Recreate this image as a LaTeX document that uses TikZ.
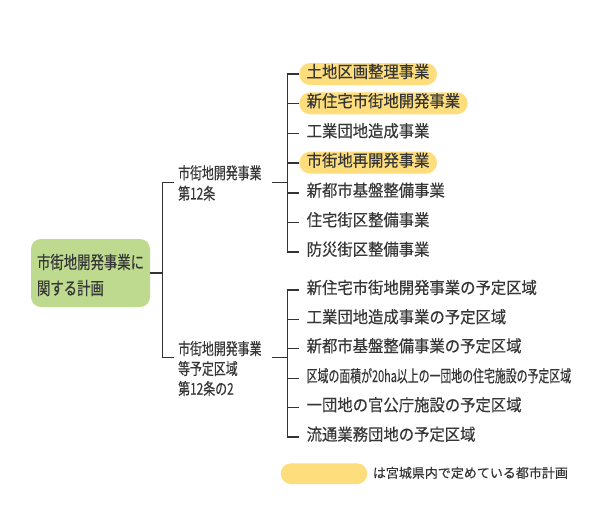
\documentclass[tikz,border=0pt]{standalone}
\usepackage{fontspec}
\setmainfont{Noto Sans CJK JP}
\newfontfamily\rootfont[FakeStretch=0.76,FakeBold=0.35]{Noto Sans CJK JP}
\newfontfamily\midfont[FakeStretch=0.73,FakeBold=0.35]{Noto Sans CJK JP}
\newfontfamily\itemfont[FakeStretch=0.93,FakeBold=0.3]{Noto Sans CJK JP}
\newfontfamily\narrowfont[FakeStretch=0.66,FakeBold=0.3]{Noto Sans CJK JP}
\newfontfamily\legfont[FakeBold=0.2]{Noto Sans CJK JP}
\definecolor{rootgreen}{HTML}{BDDA8F}
\definecolor{pillyellow}{HTML}{FEDD7C}
\definecolor{linegray}{HTML}{333333}
\definecolor{textgray}{HTML}{363636}
\begin{document}
\begin{tikzpicture}[x=1pt,y=-1pt,
  conn/.style={draw=linegray, line width=1.6pt},
  item/.style={anchor=west, inner xsep=7.5pt, inner ysep=0pt, minimum height=22pt,
    text height=0.75em, text depth=0pt, font=\itemfont\fontsize{16.5}{18}\selectfont,
    text=textgray, rounded corners=11pt},
  hl/.style={fill=pillyellow},
  midlabel/.style={anchor=west, align=left, inner sep=0pt, text=textgray},
]
\useasboundingbox[fill=white] (0,0) rectangle (600,504);

% root
\node[fill=rootgreen, rounded corners=10pt, minimum width=119pt, minimum height=68pt,
  inner sep=0pt, text=textgray, font=\rootfont\fontsize{17.6}{26}\selectfont]
  (root) at (90.5,273) {\raisebox{-3.5pt}[\height][\depth]{\begin{tabular}{@{}l@{}}市街地開発事業に\\関する計画\end{tabular}}};

% middle labels
\node[midlabel, font=\midfont\fontsize{16.3}{20.5}\selectfont] (m1) at (178,183) {市街地開発事業\\第12条};
\node[midlabel, font=\midfont\fontsize{16.3}{20}\selectfont] (m2) at (178,368.5) {市街地開発事業\\等予定区域\\第12条の2};

% group 1 items
\node[item, hl] (i1) at (299,74) {土地区画整理事業};
\node[item, hl] (i2) at (299,103.3) {新住宅市街地開発事業};
\node[item] (i3) at (299,133.3) {工業団地造成事業};
\node[item, hl] (i4) at (299,162.7) {市街地再開発事業};
\node[item] (i5) at (299,192.7) {新都市基盤整備事業};
\node[item] (i6) at (299,222.3) {住宅街区整備事業};
\node[item] (i7) at (299,251.7) {防災街区整備事業};

% group 2 items
\node[item] (j1) at (299,290) {新住宅市街地開発事業の予定区域};
\node[item] (j2) at (299,319.3) {工業団地造成事業の予定区域};
\node[item] (j3) at (299,348.3) {新都市基盤整備事業の予定区域};
\node[item, font=\narrowfont\fontsize{16.5}{18}\selectfont] (j4) at (299,378.3) {区域の面積が20ha以上の一団地の住宅施設の予定区域};
\node[item] (j5) at (299,407.3) {一団地の官公庁施設の予定区域};
\node[item] (j6) at (299,436.7) {流通業務団地の予定区域};

% connector points
\coordinate (rj) at (162.3,273);
\coordinate (m1in) at (174,182.3);
\coordinate (m2in) at (174,357.3);
\coordinate (m1out) at (271.7,182.3);
\coordinate (m2out) at (271.7,357.3);
\coordinate (b1) at (287.3,182.3);
\coordinate (b2) at (287.3,357.3);

% connectors
\draw[conn] (root.east) -- (rj);
\draw[conn] (m1in) -| (rj) |- (m2in);
\draw[conn] (m1out) -- (b1);
\draw[conn] (m2out) -- (b2);
\draw[conn] (i1.west) -| (b1) |- (i7.west);
\foreach \n in {i2,i3,i4,i5,i6} \draw[conn] (\n.west) -- (\n.west -| b1);
\draw[conn] (j1.west) -| (b2) |- (j6.west);
\foreach \n in {j2,j3,j4,j5} \draw[conn] (\n.west) -- (\n.west -| b2);

% legend
\node[fill=pillyellow, rounded corners=10.3pt, minimum width=86.6pt, minimum height=20.7pt, inner sep=0pt] (leg) at (324,473.7) {};
\node[anchor=west, font=\legfont\fontsize{13}{15}\selectfont, text=textgray, inner sep=0pt,
  text height=0.75em, text depth=0pt] (legtext) at (372.7,474) {は宮城県内で定めている都市計画};
\end{tikzpicture}
\end{document}
